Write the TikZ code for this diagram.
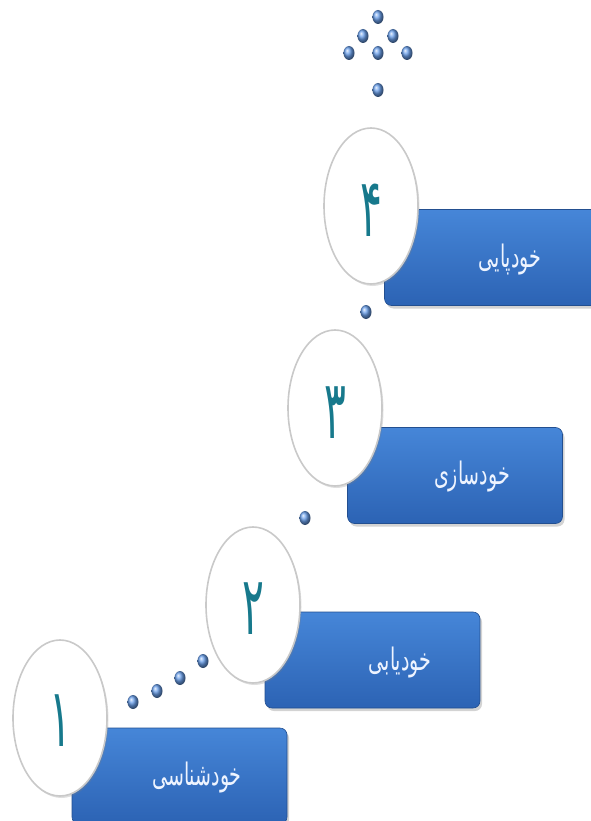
\documentclass[tikz,border=0pt]{standalone}
\usepackage{fontspec}
\usetikzlibrary{shadows,shapes.geometric}
\TeXXeTstate=1
\newfontfamily\arabicfont[Script=Arabic]{DejaVu Sans}
\definecolor{boxtop}{HTML}{4686D8}
\definecolor{boxbot}{HTML}{2C63B4}
\definecolor{numteal}{HTML}{17798C}
\definecolor{ringgray}{HTML}{C9C9C9}
\definecolor{ballblue}{HTML}{6A9FEA}
\definecolor{textwhite}{HTML}{EEF4FF}
\tikzset{
  stepbox/.style={rectangle, rounded corners=7pt, minimum width=215pt, minimum height=96pt,
    top color=boxtop, bottom color=boxbot, draw=boxbot!80!black, line width=0.6pt,
    drop shadow={shadow xshift=2pt, shadow yshift=-3pt, opacity=0.35}},
  ring/.style={ellipse, minimum width=94pt, minimum height=156pt, fill=white,
    draw=ringgray, line width=1.6pt,
    drop shadow={shadow xshift=1.5pt, shadow yshift=-2pt, opacity=0.25}},
  bead/.style={ellipse, minimum width=11pt, minimum height=14pt, inner sep=0pt,
    shading=ball, ball color=ballblue},
  numlab/.style={text=numteal, font=\arabicfont\fontsize{48}{52}\selectfont},
  boxlab/.style={text=textwhite, font=\arabicfont\fontsize{20}{24}\selectfont}
}
\begin{document}
\begin{tikzpicture}[x=1pt,y=-1pt]
\useasboundingbox (0,0) rectangle (590,821);
% boxes
\node[stepbox] (b4) at (492,257.5) {};
\node[stepbox] (b3) at (455,475.5) {};
\node[stepbox] (b2) at (372.5,660) {};
\node[stepbox] (b1) at (179.5,776) {};
% labels
\node[boxlab] (t4) at (510,260) {\scalebox{0.95}[1.55]{\beginR خودپایی\endR}};
\node[boxlab] (t3) at (472,477) {\scalebox{0.95}[1.55]{\beginR خودسازی\endR}};
\node[boxlab] (t2) at (400,662) {\scalebox{0.95}[1.55]{\beginR خودیابی\endR}};
\node[boxlab] (t1) at (197,777) {\scalebox{0.95}[1.55]{\beginR خودشناسی\endR}};
% rings
\node[ring] (c4) at (371,206) {};
\node[ring] (c3) at (335,408) {};
\node[ring] (c2) at (253,605) {};
\node[ring] (c1) at (60,718) {};
\node[numlab] (n4) at ([yshift=-4pt]c4) {\scalebox{0.85}[1.7]{\beginR ۴\endR}};
\node[numlab] (n3) at ([yshift=-5pt]c3) {\scalebox{0.85}[1.7]{\beginR ۳\endR}};
\node[numlab] (n2) at ([yshift=-4pt]c2) {\scalebox{0.85}[1.7]{\beginR ۲\endR}};
\node[numlab] (n1) at ([yshift=-3pt]c1) {\scalebox{0.85}[1.7]{\beginR ۱\endR}};
% beads
\node[bead] (d1) at (133,702) {};
\node[bead] (d2) at (157,691) {};
\node[bead] (d3) at (180,678) {};
\node[bead] (d4) at (203,661) {};
\node[bead] (d5) at (305,518) {};
\node[bead] (d6) at (366,312) {};
\node[bead] (e0) at (378,90) {};
\node[bead] (e1) at (378,53) {};
\node[bead] (e2) at (349,53) {};
\node[bead] (e3) at (407,53) {};
\node[bead] (e4) at (363,36) {};
\node[bead] (e5) at (393,36) {};
\node[bead] (e6) at (378,17) {};
\end{tikzpicture}
\end{document}
